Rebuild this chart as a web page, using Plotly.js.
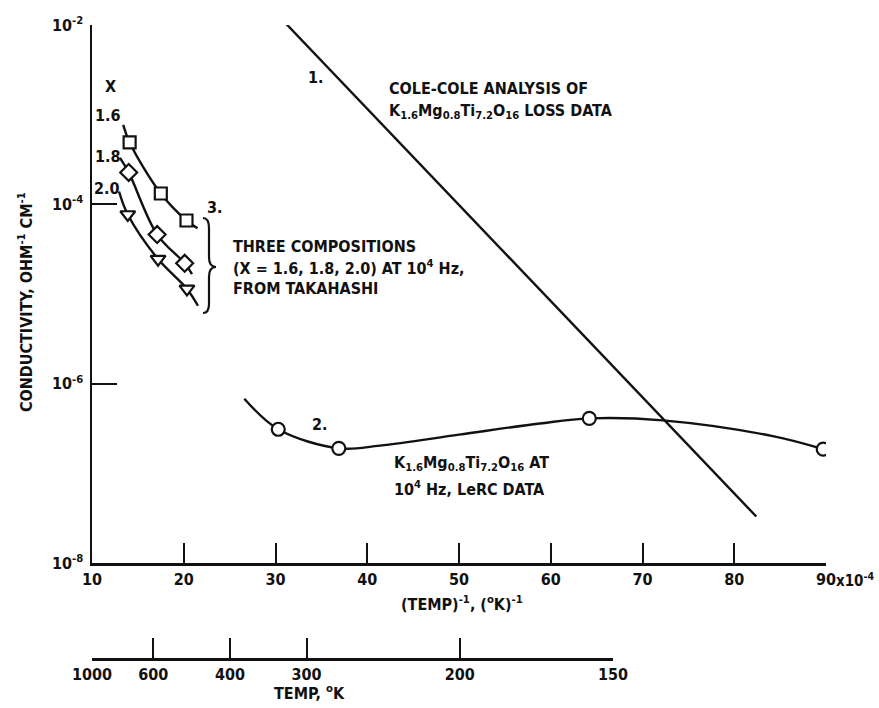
<!DOCTYPE html>
<html>
<head>
<meta charset="utf-8">
<script src="https://cdn.plot.ly/plotly-3.0.1.min.js"></script>
<style>html,body{margin:0;padding:0;background:#fff;}#chart{width:879px;height:708px;}</style>
</head>
<body>
<div id="chart"></div>
<script>
// ---- Data (x in units of 1e-4 /K, y = conductivity ohm^-1 cm^-1) ----
// Curve 1: Cole-Cole analysis (straight line on log scale)
const line1X = [31.2, 82.4];
const line1Y = [1.02e-2, 3.3e-8];

// Curve 2: LeRC data (smooth curve + circles)
const curve2X = [26.6, 30.3, 36.9, 41.4, 50.0, 58.8, 64.2, 72.2, 84.2, 89.7];
const curve2Y = [6.8e-7, 3.1e-7, 1.9e-7, 2.04e-7, 2.7e-7, 3.6e-7, 4.1e-7, 3.9e-7, 2.6e-7, 1.86e-7];
const circlesX = [30.3, 36.9, 64.2, 89.7];
const circlesY = [3.1e-7, 1.9e-7, 4.1e-7, 1.86e-7];

// Curve 3: Takahashi, three compositions
const sqCurveX = [13.4, 14.1, 17.5, 20.3, 21.5];
const sqCurveY = [7.7e-4, 4.9e-4, 1.32e-4, 6.6e-5, 5.4e-5];
const squaresX = [14.1, 17.5, 20.3];
const squaresY = [4.9e-4, 1.32e-4, 6.6e-5];

const diCurveX = [13.05, 14.0, 17.1, 20.1, 20.9];
const diCurveY = [3.3e-4, 2.27e-4, 4.6e-5, 2.2e-5, 1.67e-5];
const diamondsX = [14.0, 17.1, 20.1];
const diamondsY = [2.27e-4, 4.6e-5, 2.2e-5];

const trCurveX = [12.95, 13.9, 17.2, 20.35, 21.55];
const trCurveY = [1.39e-4, 7.7e-5, 2.45e-5, 1.14e-5, 7.4e-6];
const trianglesX = [13.9, 17.2, 20.35];
const trianglesY = [7.7e-5, 2.45e-5, 1.14e-5];

// Tick labels
const xTickVals = [10, 20, 30, 40, 50, 60, 70, 80, 90];
const xTickText = ['10', '20', '30', '40', '50', '60', '70', '80', '90'];
const xUnitSuffix = 'x10<sup>-4</sup>';
const yTickVals = [1e-8, 1e-6, 1e-4, 1e-2];
const yTickText = ['10<sup>-8</sup>', '10<sup>-6</sup>', '10<sup>-4</sup>', '10<sup>-2</sup>'];
const tempTicks = [1000, 600, 400, 300, 200, 150];

// ---- Layout helpers ----
const W = 879, H = 708, ML = 92, MR = 53, MT = 25, MB = 50;
const PW = W - ML - MR, PH = H - MT - MB;
const fx = p => (p - ML) / PW;
const fy = p => (H - MB - p) / PH;
const FONT = '"Liberation Sans Narrow", "DejaVu Sans Condensed", "Liberation Sans", sans-serif';
const INK = '#111111';
const txtFont = (size) => ({family: FONT, size: size, color: INK, weight: 'bold'});

const lineStyle = {color: INK, width: 2.4};
const curveStyle = {color: INK, width: 2.4, shape: 'spline', smoothing: 1};
function markerTrace(x, y, symbol, size) {
  return {x, y, type: 'scatter', mode: 'markers', hoverinfo: 'skip',
    marker: {symbol, size, color: '#ffffff', line: {color: INK, width: 2.2}}};
}

const traces = [
  {x: line1X, y: line1Y, type: 'scatter', mode: 'lines', line: lineStyle},
  {x: curve2X, y: curve2Y, type: 'scatter', mode: 'lines', line: curveStyle},
  markerTrace(circlesX, circlesY, 'circle', 13),
  {x: sqCurveX, y: sqCurveY, type: 'scatter', mode: 'lines', line: curveStyle},
  {x: diCurveX, y: diCurveY, type: 'scatter', mode: 'lines', line: curveStyle},
  {x: trCurveX, y: trCurveY, type: 'scatter', mode: 'lines', line: curveStyle},
  markerTrace(squaresX, squaresY, 'square', 12),
  markerTrace(diamondsX, diamondsY, 'diamond', 13),
  markerTrace(trianglesX, trianglesY, 'triangle-down', 13),
  // invisible trace to activate the secondary temperature axis
  {x: [10, 66.667], y: [0, 1], xaxis: 'x2', yaxis: 'y2', type: 'scatter', mode: 'markers',
   marker: {opacity: 0}, hoverinfo: 'skip'}
];

function ann(text, px, py, opts) {
  return Object.assign({text, x: fx(px), y: fy(py), xref: 'paper', yref: 'paper',
    showarrow: false, xanchor: 'center', yanchor: 'middle',
    font: txtFont(16)}, opts || {});
}
const K = 'K<sub>1.6</sub>Mg<sub>0.8</sub>Ti<sub>7.2</sub>O<sub>16</sub>';
const annotations = [
  ann('X', 110, 86),
  ann('1.6', 108, 116),
  ann('1.8', 108, 156),
  ann('2.0', 107, 189),
  ann('3.', 214, 207),
  ann('THREE COMPOSITIONS', 231, 247, {xanchor: 'left'}),
  ann('(X = 1.6, 1.8, 2.0) AT 10<sup>4</sup> Hz,', 231, 267, {xanchor: 'left'}),
  ann('FROM TAKAHASHI', 231, 288, {xanchor: 'left'}),
  ann('1.', 315, 77),
  ann('COLE-COLE ANALYSIS OF', 387, 89, {xanchor: 'left'}),
  ann(K + ' LOSS DATA', 387, 112, {xanchor: 'left'}),
  ann('2.', 319, 424),
  ann(K + ' AT', 392, 463, {xanchor: 'left'}),
  ann('10<sup>4</sup> Hz, LeRC DATA', 392, 488, {xanchor: 'left'}),
  ann(xUnitSuffix, 834, 580, {xanchor: 'left', font: txtFont(15)}),
  ann('(TEMP)<sup>-1</sup>, (<sup>o</sup>K)<sup>-1</sup>', 462, 603),
  ann('TEMP, <sup>o</sup>K', 309, 692),
  ann('CONDUCTIVITY, OHM<sup>-1</sup> CM<sup>-1</sup>', 25, 302, {textangle: -90})
];

// brace "}" decoration
const bp = [[203,218],[209,218],[209,228],[209,257],[209,267],[216,267],[209,267],[209,277],[209,304],[209,313],[203,313]];
const P = bp.map(p => fx(p[0]).toFixed(4) + ',' + fy(p[1]).toFixed(4));
const bracePath = 'M' + P[0] + ' Q' + P[1] + ' ' + P[2] + ' L' + P[3] + ' Q' + P[4] + ' ' + P[5] +
  ' Q' + P[6] + ' ' + P[7] + ' L' + P[8] + ' Q' + P[9] + ' ' + P[10];

const axisFont = txtFont(16);
const layout = {
  width: W, height: H,
  margin: {l: ML, r: MR, t: MT, b: MB, pad: 0},
  paper_bgcolor: '#ffffff', plot_bgcolor: 'rgba(0,0,0,0)',
  showlegend: false,
  font: {family: FONT, color: INK},
  xaxis: {
    type: 'linear', range: [10, 90], anchor: 'y', domain: [0, 1],
    showgrid: false, zeroline: false, showline: true, linecolor: INK, linewidth: 2.5,
    ticks: 'inside', ticklen: 20, tickwidth: 2, tickcolor: INK,
    tickmode: 'array', tickvals: xTickVals, ticktext: xTickText,
    tickfont: axisFont, ticklabelstandoff: 0
  },
  yaxis: {
    type: 'log', range: [-8, -2], domain: [fy(563), 1], anchor: 'x',
    showgrid: false, zeroline: false, showline: true, linecolor: INK, linewidth: 2.5,
    ticks: 'inside', ticklen: 25, tickwidth: 2, tickcolor: INK,
    tickmode: 'array', tickvals: yTickVals, ticktext: yTickText,
    tickfont: axisFont, ticklabelstandoff: 3
  },
  xaxis2: {
    type: 'linear', range: [10, 10000 / 150], domain: [0, fx(613)], anchor: 'y2',
    showgrid: false, zeroline: false, showline: true, linecolor: INK, linewidth: 2.5,
    ticks: 'inside', ticklen: 20, tickwidth: 2, tickcolor: INK,
    tickmode: 'array', tickvals: tempTicks.map(t => 10000 / t), ticktext: tempTicks.map(String),
    tickfont: axisFont
  },
  yaxis2: {domain: [0, 0.02], anchor: 'x2', range: [0, 1], visible: false},
  annotations: annotations,
  shapes: [{type: 'path', path: bracePath, xref: 'paper', yref: 'paper',
    line: {color: INK, width: 2.2}}]
};

Plotly.newPlot('chart', traces, layout, {staticPlot: true, displayModeBar: false});
</script>
</body>
</html>
